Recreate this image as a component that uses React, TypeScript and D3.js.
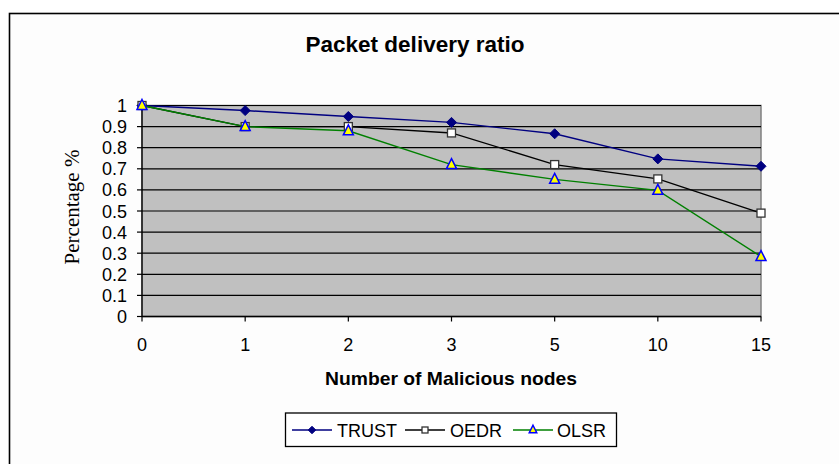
import React from "react";
import * as d3 from "d3";

const categories = ["0", "1", "2", "3", "5", "10", "15"];
const trust = [1, 0.976, 0.948, 0.92, 0.866, 0.747, 0.712];
const oedr = [1, 0.9, 0.9, 0.87, 0.72, 0.652, 0.49];
const olsr = [1, 0.9, 0.88, 0.72, 0.65, 0.598, 0.284];
const yTicks = [0, 0.1, 0.2, 0.3, 0.4, 0.5, 0.6, 0.7, 0.8, 0.9, 1];
const seriesNames = ["TRUST", "OEDR", "OLSR"];

const W = 839;
const H = 464;
const plot = { left: 142, right: 761, top: 105.5, bottom: 316.5 };

const SANS = "Arial, 'Liberation Sans', sans-serif";

function Marker({ kind, x, y, k = 1 }: { kind: string; x: number; y: number; k?: number }) {
  if (kind === "TRUST") {
    const s = 5 * k;
    return (
      <path
        d={`M${x},${y - s}L${x + s},${y}L${x},${y + s}L${x - s},${y}Z`}
        fill="#000080"
        stroke="#000080"
        strokeWidth={1}
      />
    );
  }
  if (kind === "OEDR") {
    const h = 4 * k;
    return (
      <rect x={x - h} y={y - h} width={2 * h} height={2 * h} fill="#ffffff" stroke="#333333" strokeWidth={1.3} />
    );
  }
  const s = 5 * k;
  return (
    <path
      d={`M${x},${y - s - 1}L${x + s},${y + s - 1}L${x - s},${y + s - 1}Z`}
      fill="#ffff00"
      stroke="#0000ff"
      strokeWidth={1.5}
    />
  );
}

export default function App() {
  const x = d3.scalePoint<string>().domain(categories).range([plot.left, plot.right]);
  const y = d3.scaleLinear().domain([0, 1]).range([plot.bottom, plot.top]);

  const series = [
    { name: "TRUST", values: trust, color: "#000080" },
    { name: "OEDR", values: oedr, color: "#000000" },
    { name: "OLSR", values: olsr, color: "#008000" },
  ];

  const line = d3
    .line<number>()
    .x((_, i) => x(categories[i]) as number)
    .y((d) => y(d));

  const legendItems = [
    { name: seriesNames[0], x0: 292, tx: 337 },
    { name: seriesNames[1], x0: 405, tx: 450 },
    { name: seriesNames[2], x0: 513, tx: 557 },
  ];
  const colorOf: Record<string, string> = { TRUST: "#000080", OEDR: "#000000", OLSR: "#008000" };

  return (
    <svg
      width={W}
      height={H}
      style={{ position: "absolute", left: 0, top: 0, background: "#ffffff" }}
    >
      <rect x={0} y={0} width={W} height={H} fill="#ffffff" />
      <rect x={9.5} y={13.5} width={W + 10} height={H + 10} fill="#fdfdfd" stroke="#000000" strokeWidth={1.6} />

      <text
        x={415}
        y={51.5}
        textAnchor="middle"
        fontFamily={SANS}
        fontWeight="bold"
        fontSize={22.5}
        fill="#000"
      >
        Packet delivery ratio
      </text>

      <rect
        x={plot.left}
        y={plot.top}
        width={plot.right - plot.left}
        height={plot.bottom - plot.top}
        fill="#c0c0c0"
        stroke="#808080"
        strokeWidth={1.5}
      />

      {yTicks.map((t) => (
        <g key={t}>
          {t > 0 && (
            <line x1={plot.left} x2={plot.right} y1={y(t)} y2={y(t)} stroke="#000" strokeWidth={1.2} />
          )}
          <line x1={plot.left - 5} x2={plot.left} y1={y(t)} y2={y(t)} stroke="#000" strokeWidth={1.2} />
          <text
            x={127}
            y={y(t) + 6.5}
            textAnchor="end"
            fontFamily={SANS}
            fontSize={18}
            fill="#000"
          >
            {String(t)}
          </text>
        </g>
      ))}

      <line x1={plot.left} x2={plot.left} y1={plot.top} y2={plot.bottom} stroke="#000" strokeWidth={1.3} />
      <line x1={plot.left} x2={plot.right} y1={plot.bottom} y2={plot.bottom} stroke="#000" strokeWidth={1.3} />

      {categories.map((c) => (
        <g key={c}>
          <line
            x1={x(c) as number}
            x2={x(c) as number}
            y1={plot.bottom}
            y2={plot.bottom + 5}
            stroke="#000"
            strokeWidth={1.2}
          />
          <text
            x={x(c) as number}
            y={351}
            textAnchor="middle"
            fontFamily={SANS}
            fontSize={18}
            fill="#000"
          >
            {c}
          </text>
        </g>
      ))}

      <text
        x={451}
        y={385}
        textAnchor="middle"
        fontFamily={SANS}
        fontWeight="bold"
        fontSize={19}
        textLength={252}
        lengthAdjust="spacingAndGlyphs"
        fill="#000"
      >
        Number of Malicious nodes
      </text>

      <text
        transform={`translate(79,207) rotate(-90)`}
        textAnchor="middle"
        fontFamily="'Times New Roman', 'Liberation Serif', serif"
        fontSize={21}
        fill="#000"
      >
        Percentage %
      </text>

      {series.map((s) => (
        <g key={s.name}>
          <path d={line(s.values) || ""} fill="none" stroke={s.color} strokeWidth={1.4} />
          {s.values.map((v, i) => (
            <Marker key={i} kind={s.name} x={x(categories[i]) as number} y={y(v)} />
          ))}
        </g>
      ))}

      <rect x={285.5} y={413} width={331} height={33.5} fill="#ffffff" stroke="#000" strokeWidth={1.3} />
      {legendItems.map((it) => (
        <g key={it.name}>
          <line x1={it.x0} x2={it.x0 + 40} y1={430} y2={430} stroke={colorOf[it.name]} strokeWidth={1.4} />
          <Marker kind={it.name} x={it.x0 + 20} y={430} k={0.75} />
          <text x={it.tx} y={436.5} fontFamily={SANS} fontSize={18} fill="#000">
            {it.name}
          </text>
        </g>
      ))}
    </svg>
  );
}
